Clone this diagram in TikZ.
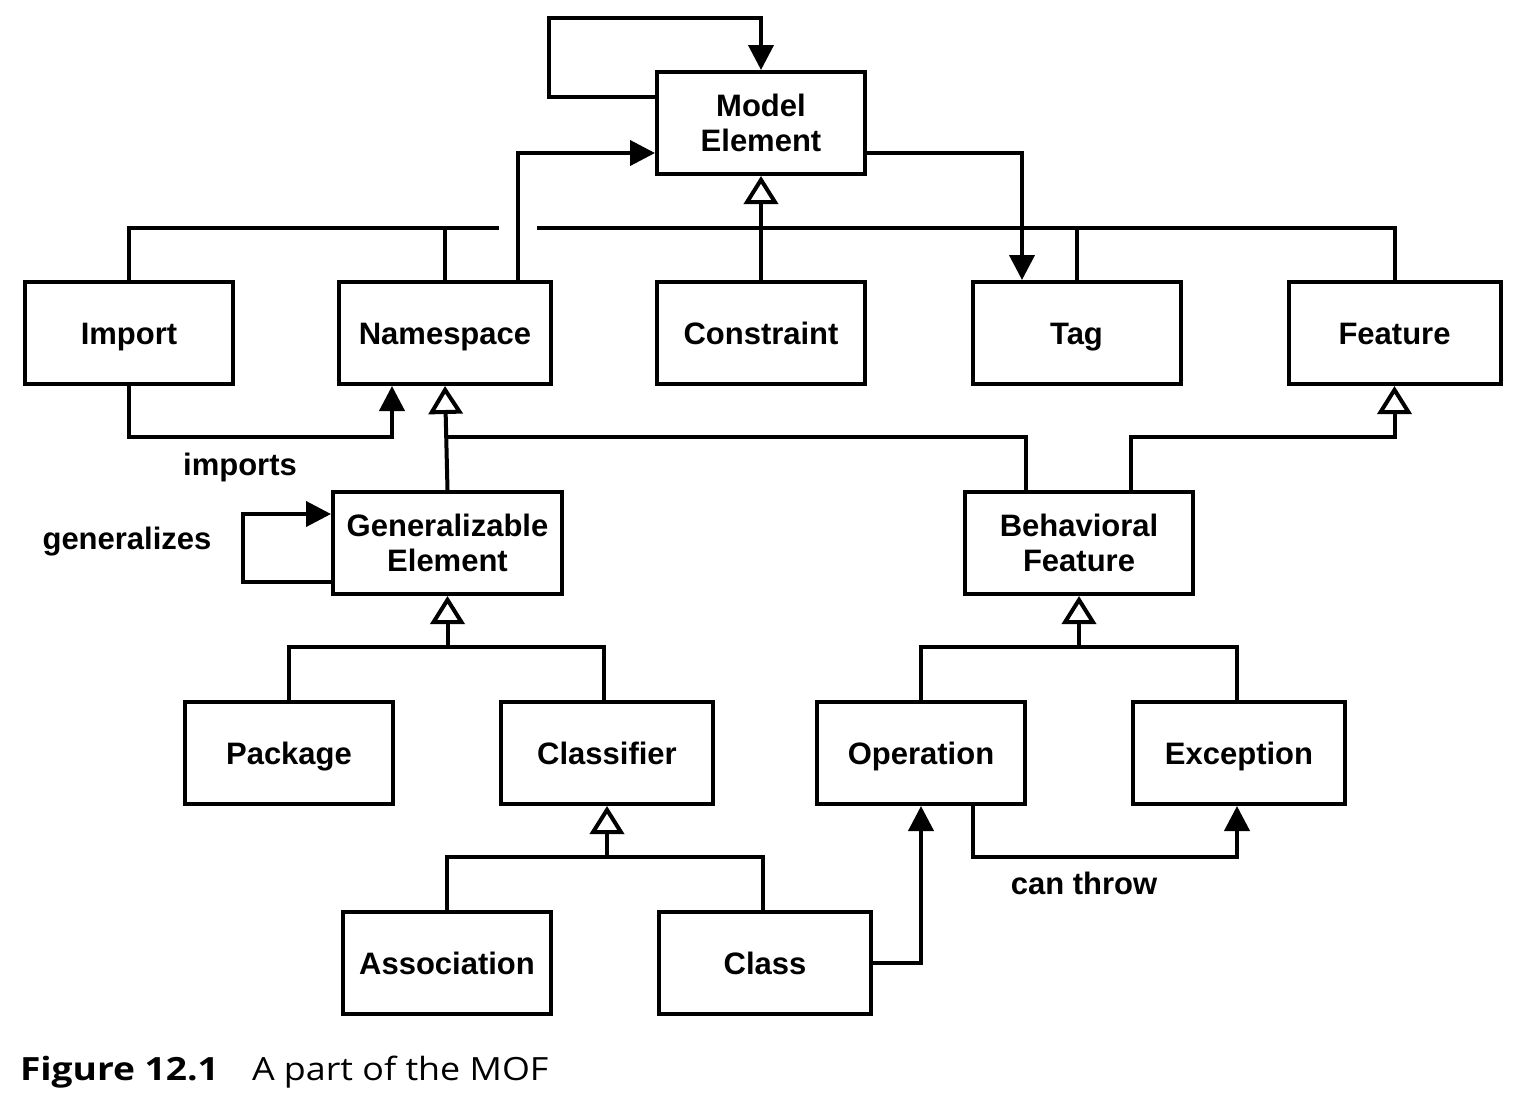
\documentclass[tikz,border=0pt]{standalone}
\usepackage{fontspec}
\setmainfont{Liberation Sans}
\newfontfamily\capfont[FakeStretch=1.12]{Open Sans}
\newfontfamily\capbfont[FakeStretch=1.16]{Open Sans}
\usetikzlibrary{arrows.meta}
\begin{document}
\begin{tikzpicture}[x=1pt,y=-1pt,line width=4pt,
  box/.style={draw,rectangle,minimum height=102pt,align=center,inner sep=0pt,
    font=\fontsize{31}{35}\selectfont\bfseries},
  one/.style={text height=28pt,text depth=6pt},
  lbl/.style={font=\fontsize{31}{35}\selectfont\bfseries,inner sep=0pt},
  arr/.style={-{Triangle[length=25pt,width=25pt]}},
  gen/.style={-{Triangle[open,length=28pt,width=34pt,fill=white]}}]
\useasboundingbox (0,0) rectangle (1526,1100);
% nodes
\node[box,minimum width=208pt] (ME) at (761,123) {Model\\Element};
\node[box,one,minimum width=208pt] (Imp) at (129,333) {Import};
\node[box,one,minimum width=212pt] (NS) at (445,333) {Namespace};
\node[box,one,minimum width=208pt] (Con) at (761,333) {Constraint};
\node[box,one,minimum width=208pt] (Tag) at (1076.5,333) {Tag};
\node[box,one,minimum width=212pt] (Feat) at (1394.5,333) {Feature};
\node[box,minimum width=229pt] (GE) at (447.5,543) {Generalizable\\Element};
\node[box,minimum width=228pt] (BF) at (1079,543) {Behavioral\\Feature};
\node[box,one,minimum width=208pt] (Pkg) at (289,753) {Package};
\node[box,one,minimum width=212pt] (Cls) at (607,753) {Classifier};
\node[box,one,minimum width=208pt] (Op) at (921,753) {Operation};
\node[box,one,minimum width=212pt] (Exc) at (1239,753) {Exception};
\node[box,one,minimum width=208pt] (Asc) at (447,963) {Association};
\node[box,one,minimum width=212pt] (Class) at (765,963) {Class};
% helper coordinates
\coordinate (y228) at (0,228);
\coordinate (y437) at (0,437);
\coordinate (y647) at (0,647);
\coordinate (y857) at (0,857);
\coordinate (loopc) at (549,18);
\coordinate (gapL) at (499,228);
\coordinate (gapR) at (537,228);
\coordinate (impc) at (392,437);
\coordinate (genc) at (243,514);
% Model Element self loop
\draw[arr] ([yshift=26pt]ME.west) -| (loopc) -| (ME.north);
% Namespace -> Model Element
\draw[arr] ([xshift=73pt]NS.north) |- ([yshift=-30pt]ME.west);
% Model Element -> Tag
\draw[arr] ([yshift=-30pt]ME.east) -| ([xshift=-54.5pt]Tag.north);
% generalization tree to Model Element
\draw[gen] (Con.north) -- (ME.south);
\draw (Imp.north) |- (gapL);
\draw (gapR) -| (Feat.north);
\draw (NS.north) -- (NS.north |- y228);
\draw (Tag.north) -- (Tag.north |- y228);
% imports
\draw[arr] (Imp.south) |- (impc) -- (impc |- NS.south);
\node[lbl] (limp) at (240,467) {imports};
% GE -> Namespace, BF -> Namespace
\draw[gen] (GE.north) -- (NS.south);
\draw (NS.south |- y437) -| ([xshift=-53pt]BF.north);
% BF -> Feature
\draw[gen] ([xshift=52pt]BF.north) |- (Feat.south |- y437) -- (Feat.south);
% generalizes loop
\draw[arr] ([yshift=-39pt]GE.west) -| (genc) -- ([yshift=29pt]GE.west);
\node[lbl] (lgen) at (127,542) {generalizes};
% Package, Classifier -> GE
\draw (Pkg.north) |- ([xshift=-3pt]Cls.north |- y647) -- ([xshift=-3pt]Cls.north);
\draw[gen] (GE.south |- y647) -- (GE.south);
% Association, Class -> Classifier
\draw (Asc.north) |- ([xshift=-2pt]Class.north |- y857) -- ([xshift=-2pt]Class.north);
\draw[gen] (Cls.south |- y857) -- (Cls.south);
% Operation, Exception -> BF
\draw (Op.north) |- ([xshift=-2pt]Exc.north |- y647) -- ([xshift=-2pt]Exc.north);
\draw[gen] (BF.south |- y647) -- (BF.south);
% Class -> Operation
\draw[arr] (Class.east) -| (Op.south);
% can throw
\draw[arr] ([xshift=52pt]Op.south) |- ([xshift=-2pt]Exc.south |- y857) -- ([xshift=-2pt]Exc.south);
\node[lbl] (lthrow) at (1084,883) {can throw};
% caption
\node[anchor=base west,inner sep=0pt,font=\capbfont\fontsize{32}{36}\selectfont\bfseries] (cap1) at (18,1080) {Figure 12.1};
\node[anchor=base west,inner sep=0pt,font=\capfont\fontsize{32}{36}\selectfont] (cap2) at (250,1080) {A part of the MOF};
\end{tikzpicture}
\end{document}
